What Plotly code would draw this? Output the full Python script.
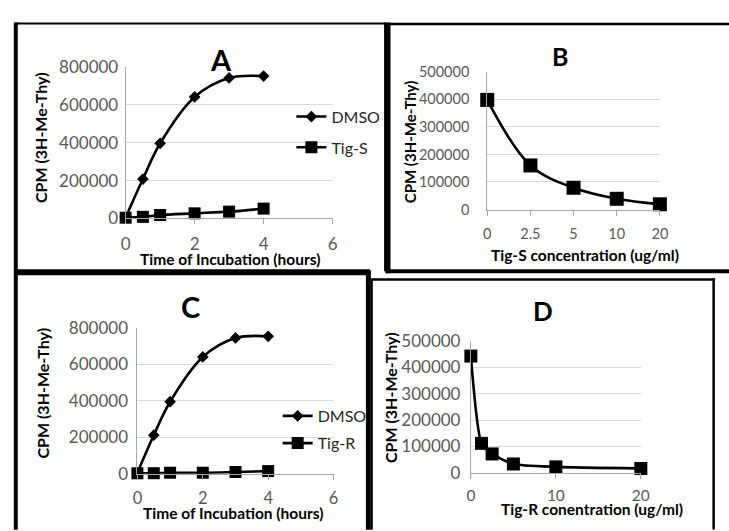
import plotly.graph_objects as go

# ---------------- data ----------------
A_time = [0, 0.5, 1, 2, 3, 4]
A_dmso = [5000, 208000, 397000, 642000, 742000, 752000]
A_tigs = [4000, 8500, 18000, 27000, 36000, 52000]

B_conc = ["0", "2.5", "5", "10", "20"]
B_cpm = [398000, 160000, 79000, 39000, 19000]

C_time = [0, 0.5, 1, 2, 3, 4]
C_dmso = [5000, 211000, 395000, 641000, 745000, 754000]
C_tigr = [2000, 2500, 5000, 5000, 9000, 14000]

D_conc = [0, 1.25, 2.5, 5, 10, 20]
D_cpm = [442000, 112000, 72000, 34000, 23000, 17000]

Y_TITLE = "CPM (3H-Me-Thy)"
W, H = 729, 531
FONT = "Lato"
TICKC = "#595959"
GRIDC = "#d9d9d9"
AXC = "#a6a6a6"


def px(x):
    return x / W


def py(y):
    return 1 - y / H


fig = go.Figure()

line = dict(color="black", width=2.6, shape="spline", smoothing=1.0)

fig.add_trace(go.Scatter(x=A_time, y=A_dmso, name="DMSO", mode="lines+markers",
                         line=line, marker=dict(symbol="diamond", size=9, color="black"),
                         xaxis="x", yaxis="y", legend="legend", cliponaxis=False))
fig.add_trace(go.Scatter(x=A_time, y=A_tigs, name="Tig-S", mode="lines+markers",
                         line=line, marker=dict(symbol="square", size=12, color="black"),
                         xaxis="x", yaxis="y", legend="legend2", cliponaxis=False))
fig.add_trace(go.Scatter(x=B_conc, y=B_cpm, name="Tig-S", mode="lines+markers",
                         line=line, marker=dict(symbol="square", size=14, color="black"),
                         xaxis="x2", yaxis="y2", showlegend=False, cliponaxis=False))
fig.add_trace(go.Scatter(x=C_time, y=C_dmso, name="DMSO", mode="lines+markers",
                         line=line, marker=dict(symbol="diamond", size=9, color="black"),
                         xaxis="x3", yaxis="y3", legend="legend3", cliponaxis=False))
fig.add_trace(go.Scatter(x=C_time, y=C_tigr, name="Tig-R", mode="lines+markers",
                         line=line, marker=dict(symbol="square", size=12, color="black"),
                         xaxis="x3", yaxis="y3", legend="legend4", cliponaxis=False))
fig.add_trace(go.Scatter(x=D_conc, y=D_cpm, name="Tig-R", mode="lines+markers",
                         line=dict(color="black", width=2.6, shape="spline", smoothing=0.6),
                         marker=dict(symbol="square", size=13, color="black"),
                         xaxis="x4", yaxis="y4", showlegend=False, cliponaxis=False))


def xax(dom, rng, dtick, size, standoff, anchor, typ="linear"):
    d = dict(domain=[px(dom[0]), px(dom[1])], anchor=anchor,
             showgrid=False, zeroline=False, showline=True, linecolor=AXC, linewidth=1,
             ticks="outside", ticklen=5, tickcolor=AXC,
             tickfont=dict(family=FONT, size=size, color=TICKC),
             ticklabelstandoff=standoff, fixedrange=True)
    if typ == "category":
        d.update(type="category", range=rng)
    else:
        d.update(range=rng, dtick=dtick, tick0=0)
    return d


def yax(dom, rng, dtick, size, standoff, anchor):
    return dict(domain=[py(dom[1]), py(dom[0])], anchor=anchor, range=rng, dtick=dtick,
                tick0=0, showgrid=True, gridcolor=GRIDC, gridwidth=1, zeroline=False,
                showline=True, linecolor=AXC, linewidth=1, ticks="",
                tickformat="d", tickfont=dict(family=FONT, size=size, color=TICKC),
                ticklabelstandoff=standoff, fixedrange=True)


fig.update_layout(
    width=W, height=H, margin=dict(l=0, r=0, t=0, b=0),
    paper_bgcolor="white", plot_bgcolor="white",
    xaxis=xax((123, 334), [0, 6], 2, 17, 5, "y"),
    yaxis=yax((58.3, 216), [0, 800000], 200000, 17, 3, "x"),
    xaxis2=xax((491.7, 667.7), [0, 4], None, 14.5, 6, "y2", typ="category"),
    yaxis2=yax((63.3, 206.7), [0, 500000], 100000, 14.5, 14, "x2"),
    xaxis3=xax((135, 335), [0, 6], 2, 16.5, 5, "y3"),
    yaxis3=yax((330, 481.7), [0, 800000], 200000, 17, 5, "x3"),
    xaxis4=xax((475, 648.3), [0, 20], 10, 15.5, 3, "y4"),
    yaxis4=yax((343.3, 481), [0, 500000], 100000, 17, 6, "x4"),
)

leg_common = dict(bgcolor="rgba(0,0,0,0)", borderwidth=0, itemwidth=30,
                  font=dict(family=FONT, size=16, color="#262626"),
                  xanchor="left", yanchor="middle", itemclick=False, itemdoubleclick=False)
fig.update_layout(
    legend=dict(x=px(292), y=py(110), **leg_common),
    legend2=dict(x=px(292), y=py(142), **leg_common),
    legend3=dict(x=px(278), y=py(421.7), **leg_common),
    legend4=dict(x=px(278), y=py(450), **leg_common),
)

# ---------------- text ----------------
ann = []


def text(x, y, s, size, bold=True, angle=0, color="black"):
    ann.append(dict(x=px(x), y=py(y), xref="paper", yref="paper", text=f"<b>{s}</b>" if bold else s,
                    showarrow=False, textangle=angle, xanchor="center", yanchor="middle",
                    font=dict(family=FONT, size=size, color=color)))


text(220, 51, "A", 29)
text(566, 47, "B", 25)
text(189, 308, "C", 29)
text(549, 312, "D", 26)

text(36, 132, Y_TITLE, 16, angle=-90)
text(412.5, 137, Y_TITLE, 15, angle=-90)
text(38, 398, Y_TITLE, 16, angle=-90)
text(392.5, 402, Y_TITLE, 16, angle=-90)

text(229, 258, "Time of Incubation (hours)", 15.5)
text(591, 254, "Tig-S concentration (ug/ml)", 15.5)
text(232.5, 523, "Time of Incubation (hours)", 15.5)
text(598, 519, "Tig-R conentration (ug/ml)", 15.5)

fig.update_layout(annotations=ann)

# ---------------- panel borders ----------------
shapes = []


def seg(x0, y0, x1, y1, w):
    shapes.append(dict(type="line", xref="paper", yref="paper", x0=px(x0), y0=py(y0),
                       x1=px(x1), y1=py(y1), line=dict(color="black", width=w)))


seg(10, 13, 388, 13, 2)          # A top
seg(11, 12, 11, 540, 4)          # A/C left
seg(387.5, 12, 387.5, 271, 2)    # A right
seg(10, 272, 372, 272, 6)        # A bottom / C top
seg(388, 13.5, 740, 13.5, 2.5)   # B top
seg(390.5, 12, 390.5, 273, 5)    # B left
seg(388, 271, 740, 271, 4)       # B bottom
seg(370.5, 270, 370.5, 540, 5)   # C right
seg(373, 279.5, 724, 279.5, 2.5)  # D top
seg(374, 279, 374, 540, 2)       # D left
seg(722.5, 278.5, 722.5, 540, 2.5)   # D right

fig.update_layout(shapes=shapes)

fig.write_html("out.html")
